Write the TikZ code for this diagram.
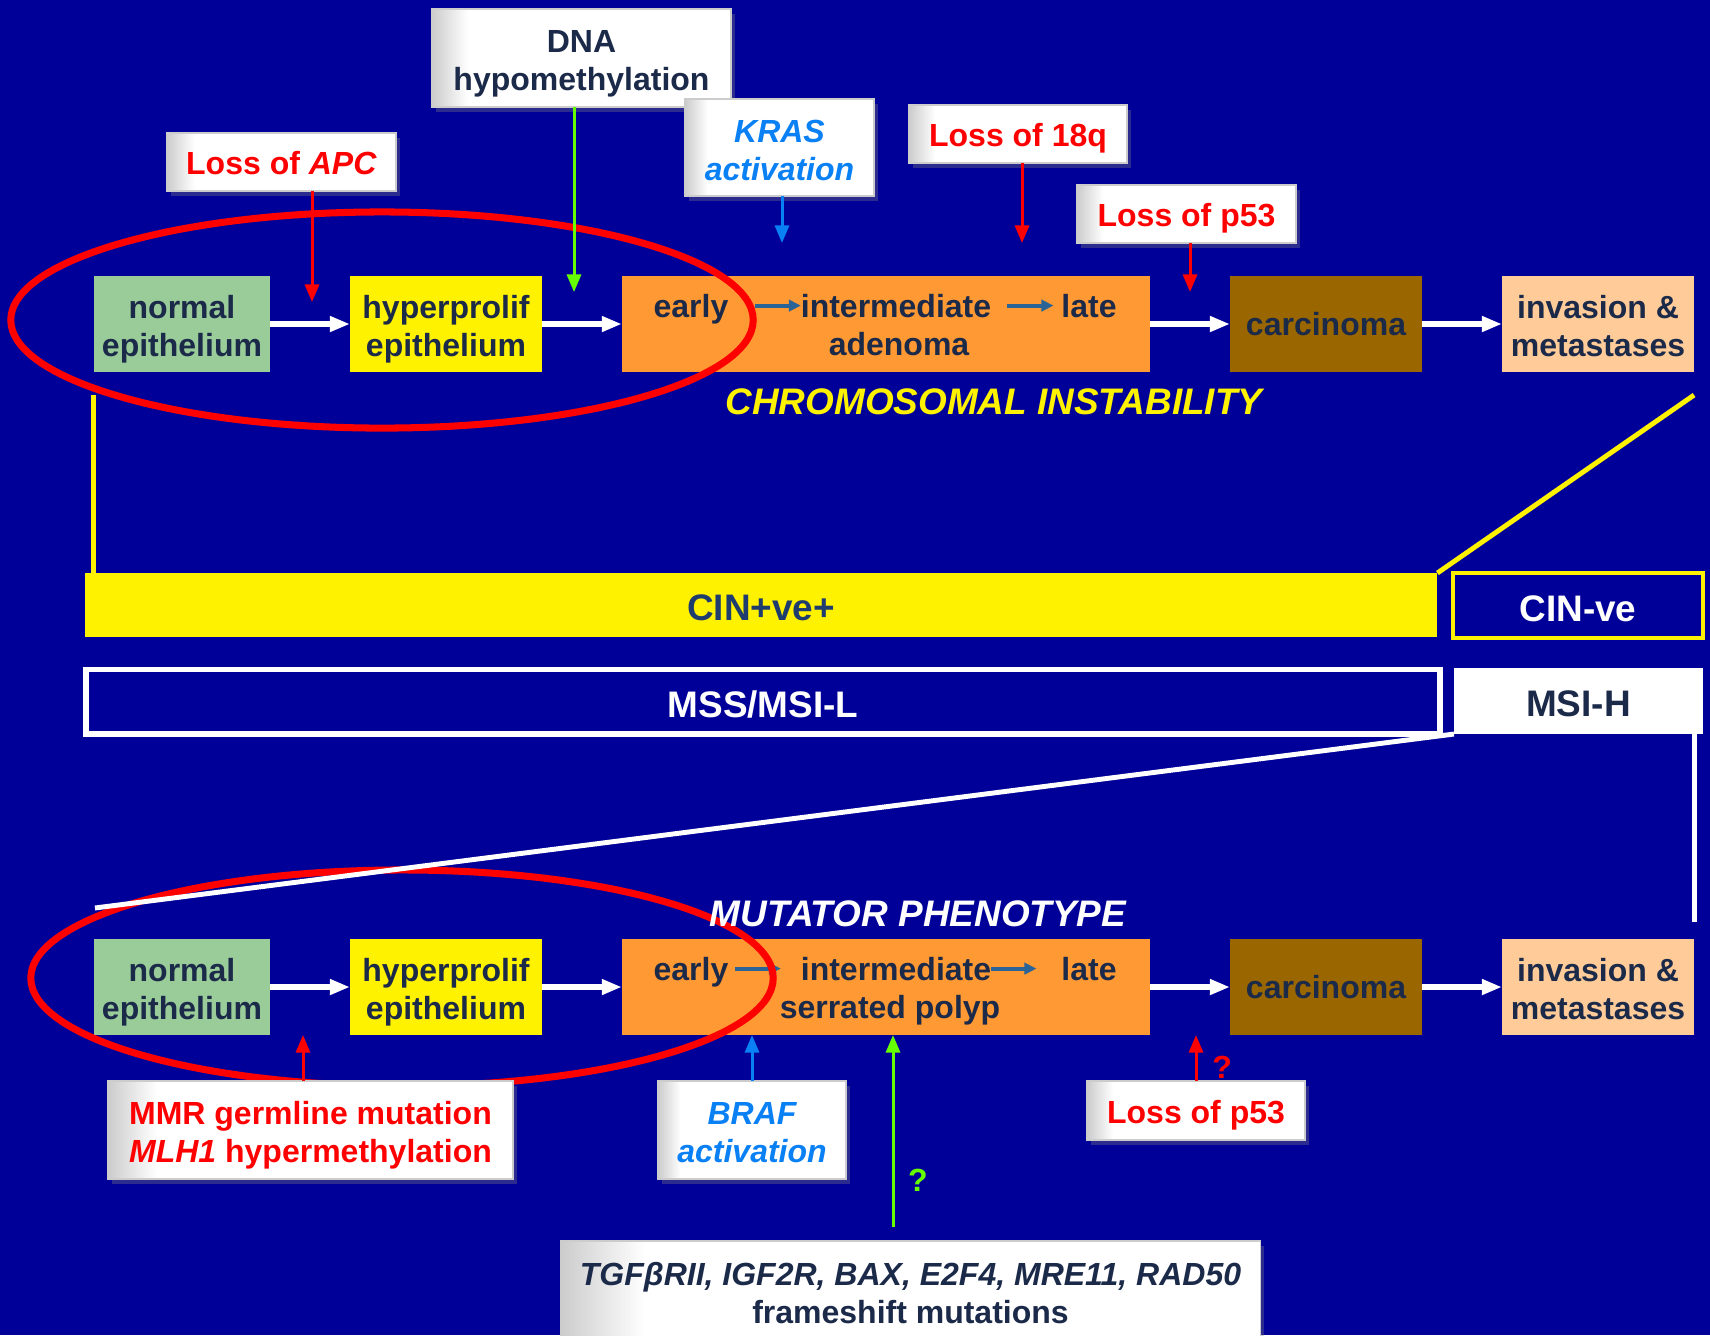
\documentclass[tikz,border=0pt]{standalone}
\usepackage{fontspec}
\setmainfont{Liberation Sans}
\usepackage{tikz}
\usetikzlibrary{calc,arrows.meta,shadows}
\definecolor{bgblue}{HTML}{000099}
\definecolor{navytxt}{HTML}{1C2A4A}
\definecolor{normgreen}{HTML}{99CC99}
\definecolor{adenorange}{HTML}{FF9933}
\definecolor{carcbrown}{HTML}{996600}
\definecolor{invpeach}{HTML}{FFCC99}
\definecolor{lossred}{HTML}{FF0000}
\definecolor{kblue}{HTML}{0A80F5}
\definecolor{dnagreen}{HTML}{66FF00}
\definecolor{steelarrow}{HTML}{2A6496}
\definecolor{cinblue}{HTML}{1F3C6E}
\newcommand\boxfont{\fontsize{9.1}{10.8}\selectfont\bfseries}
\newcommand\barfont{\fontsize{10.5}{12}\selectfont\bfseries}
\pgfdeclarehorizontalshading{bevel}{100bp}{color(0bp)=(black!20); color(25bp)=(black!20); color(31bp)=(white); color(100bp)=(white)}

\begin{document}
\begin{tikzpicture}[x=0.01cm, y=-0.01cm,
	every node/.style={inner sep=0pt, outer sep=0pt, font=\boxfont, text=navytxt},
	stage/.style={minimum width=1.92cm, minimum height=0.96cm, align=center},
	twoline/.style={text height=18.6pt, text depth=0pt},
	oneline/.style={text height=7.3pt, text depth=0pt},
	eventbox/.style={shading=bevel, draw=black!20, align=center,
		drop shadow={opacity=0.35, shadow xshift=1.2pt, shadow yshift=-1.5pt}},
	bar/.style={minimum height=0.64cm, font=\barfont, text height=8.9pt, text depth=0pt},
	flow/.style={draw=white, line width=1.9pt, -{Triangle[length=5.7pt, width=4.2pt]}},
	hit/.style={line width=0.85pt, -{Triangle[length=5pt, width=4pt]}},
	inarrow/.style={draw=steelarrow, line width=1.1pt, -{Triangle[length=3.4pt, width=3.2pt]}},
	ring/.style={draw=lossred, line width=2pt},
	guide/.style={line width=1.4pt}]

	\fill[bgblue] (0,0) rectangle (1710,1335);
	\useasboundingbox (0,0) rectangle (1710,1335);
	\clip (0,0) rectangle (1710,1335);

	% chromosomal instability row
	\node[stage, twoline, fill=normgreen, minimum width=1.76cm] (norm1) at (182,324) {normal\\epithelium};
	\node[stage, twoline, fill=yellow] (hyp1) at (446,324) {hyperprolif\\epithelium};
	\node[stage, fill=adenorange, minimum width=5.28cm] (aden1) at (886,324) {};
	\node[stage, fill=carcbrown] (carc1) at (1326,324) {carcinoma};
	\node[stage, twoline, fill=invpeach] (inv1) at (1598,324) {invasion \&\\metastases};

	\node[anchor=base] (early1) at (691,317) {early};
	\node[anchor=base] (mid1) at (896,317) {intermediate};
	\node[anchor=base] (late1) at (1089,317) {late};
	\node[anchor=base] (kind1) at (899,355) {adenoma};
	\draw[inarrow] ($(early1.east |- mid1.west)+(27,0)$) -- (mid1.west);
	\draw[inarrow] ($(mid1.east)+(16,0)$) -- ($(late1.west)+(-8,0)$);

	\draw[flow] (norm1) -- (hyp1);
	\draw[flow] (hyp1) -- (aden1);
	\draw[flow] (aden1) -- (carc1);
	\draw[flow] (carc1) -- (inv1);

	% mutator phenotype row
	\node[stage, twoline, fill=normgreen, minimum width=1.76cm] (norm2) at (182,987) {normal\\epithelium};
	\node[stage, twoline, fill=yellow] (hyp2) at (446,987) {hyperprolif\\epithelium};
	\node[stage, fill=adenorange, minimum width=5.28cm] (aden2) at (886,987) {};
	\node[stage, fill=carcbrown] (carc2) at (1326,987) {carcinoma};
	\node[stage, twoline, fill=invpeach] (inv2) at (1598,987) {invasion \&\\metastases};

	\node[anchor=base] (early2) at (691,980) {early};
	\node[anchor=base] (mid2) at (896,980) {intermediate};
	\node[anchor=base] (late2) at (1089,980) {late};
	\node[anchor=base] (kind2) at (890,1018) {serrated polyp};
	\draw[inarrow] ($(early2.east |- mid2.west)+(7,0)$) -- ($(mid2.west)+(-20,0)$);
	\draw[inarrow] (mid2.east) -- ($(late2.west)+(-25,0)$);

	\draw[flow] (norm2) -- (hyp2);
	\draw[flow] (hyp2) -- (aden2);
	\draw[flow] (aden2) -- (carc2);
	\draw[flow] (carc2) -- (inv2);

	\draw[ring] (382,320) ellipse [x radius=3.71cm, y radius=1.08cm];
	\draw[ring] (402,978) ellipse [x radius=3.71cm, y radius=1.08cm];

	% bars
	\node[bar, fill=yellow, minimum width=13.52cm, text=cinblue] (cinp) at (761,605) {CIN+ve+};
	\node[bar, draw=yellow, line width=1.1pt, minimum width=2.50cm, minimum height=0.65cm, text=white] (cinn) at (1578,605.5) {CIN-ve};
	\node[bar, draw=white, line width=1.7pt, minimum width=13.53cm, text=white] (mss) at (763,701.5) {MSS/MSI-L};
	\node[bar, fill=white, minimum width=2.49cm, minimum height=0.66cm] (msih) at (1578.5,701) {MSI-H};

	\draw[guide, yellow] ($(norm1.south west)+(0,23)$) -- (cinp.north west -| norm1.west);
	\draw[guide, yellow] ($(inv1.south east)+(0,23)$) -- (cinp.north east);
	\draw[guide, white] (msih.south west) -- ($(norm2.north west)+(1,-31)$);
	\draw[guide, white] (msih.south -| inv2.east) -- ($(inv2.north east)+(0,-17)$);

	\node[font=\barfont\itshape, text=yellow] (cintitle) at (994,402) {CHROMOSOMAL INSTABILITY};
	\node[font=\barfont\itshape, text=white] (muttitle) at (918,914) {MUTATOR PHENOTYPE};

	% events above
	\node[eventbox, oneline, minimum width=2.29cm, minimum height=0.58cm, text=lossred] (apc) at (281.5,162) {Loss of \textit{APC}};
	\node[eventbox, twoline, minimum width=2.99cm, minimum height=0.98cm] (dna) at (581.5,58) {DNA\\hypomethylation};
	\node[eventbox, twoline, minimum width=1.89cm, minimum height=0.97cm, text=kblue, font=\boxfont\itshape] (kras) at (779.5,147.5) {KRAS\\activation};
	\node[eventbox, oneline, minimum width=2.18cm, minimum height=0.58cm, text=lossred] (q18) at (1018,134) {Loss of 18q};
	\node[eventbox, oneline, minimum width=2.19cm, minimum height=0.58cm, text=lossred] (p53a) at (1186.5,214) {Loss of p53};

	\coordinate (apctip) at (312,302);
	\coordinate (dnatip) at (574,292);
	\coordinate (krastip) at (782,243);
	\coordinate (q18tip) at (1022,243);
	\coordinate (p53tip) at (1190,292);
	\draw[hit, lossred] (apc.south -| apctip) -- (apctip);
	\draw[hit, dnagreen] (dna.south -| dnatip) -- (dnatip);
	\draw[hit, kblue] (kras.south -| krastip) -- (krastip);
	\draw[hit, lossred] (q18.south -| q18tip) -- (q18tip);
	\draw[hit, lossred] (p53a.south -| p53tip) -- (p53tip);

	% events below
	\node[eventbox, twoline, minimum width=4.05cm, minimum height=0.98cm, text=lossred] (mmr) at (310.5,1130) {MMR germline mutation\\\textit{MLH1} hypermethylation};
	\node[eventbox, twoline, minimum width=1.88cm, minimum height=0.98cm, text=kblue, font=\boxfont\itshape] (braf) at (752,1130) {BRAF\\activation};
	\node[eventbox, oneline, minimum width=2.18cm, minimum height=0.59cm, text=lossred] (p53b) at (1196,1110.5) {Loss of p53};
	\node[eventbox, minimum width=6.99cm, minimum height=1.04cm, anchor=north] (fshift) at (910.5,1241) {\textit{TGFβRII, IGF2R, BAX, E2F4, MRE11, RAD50}\\frameshift mutations};

	\coordinate (mmrtip) at (303,1035);
	\coordinate (fstail) at (893,1227);
	\draw[hit, lossred] (mmrtip |- mmr.north) -- (mmrtip);
	\draw[hit, kblue] (braf.north) -- (braf.north |- aden2.south);
	\draw[hit, lossred] (p53b.north) -- (p53b.north |- carc2.south);
	\draw[hit, dnagreen] (fstail) -- (fstail |- aden2.south);

	\node[text=lossred] (qp53) at (1222,1067) {?};
	\node[text=dnagreen] (qfs) at (918,1180) {?};

\end{tikzpicture}
\end{document}
